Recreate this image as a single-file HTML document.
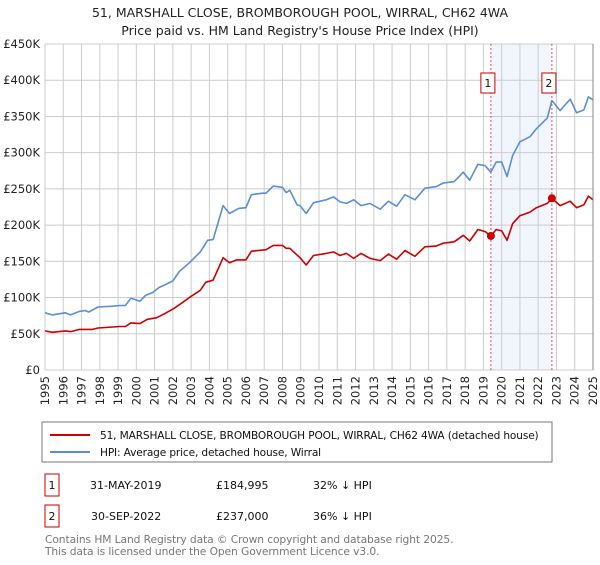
<!DOCTYPE html>
<html><head><meta charset="utf-8"><style>
body{margin:0;background:#fff;font-family:"Liberation Sans","DejaVu Sans",sans-serif;}
svg text{font-family:"DejaVu Sans","Liberation Sans",sans-serif;}
</style></head><body>
<svg id="chart" width="600" height="560" viewBox="0 0 600 560" xmlns="http://www.w3.org/2000/svg">
<text x="300" y="17" text-anchor="middle" font-size="12.5" fill="#222">51, MARSHALL CLOSE, BROMBOROUGH POOL, WIRRAL, CH62 4WA</text>
<text x="300" y="35" text-anchor="middle" font-size="12.5" fill="#222">Price paid vs. HM Land Registry's House Price Index (HPI)</text>
<g id="grid"></g><g id="series"></g><g id="axes"></g>
<rect x="42" y="422" width="510" height="40" fill="#fff" stroke="#777"/>
<line x1="50" y1="435" x2="90" y2="435" stroke="#cc0000" stroke-width="2"/>
<text x="100" y="439" font-size="10.6" letter-spacing="-0.15" fill="#111">51, MARSHALL CLOSE, BROMBOROUGH POOL, WIRRAL, CH62 4WA (detached house)</text>
<line x1="50" y1="452" x2="90" y2="452" stroke="#5b8fd4" stroke-width="2"/>
<text x="100" y="456" font-size="10.6" letter-spacing="-0.15" fill="#111">HPI: Average price, detached house, Wirral</text>
<rect x="45" y="474" width="14" height="22" fill="#fff" stroke="#cc0000"/>
<text x="52" y="489" text-anchor="middle" font-size="11" fill="#111">1</text>
<text x="90" y="489" font-size="11" fill="#111">31-MAY-2019</text>
<text x="216" y="489" font-size="11" fill="#111">£184,995</text>
<text x="313" y="489" font-size="11" fill="#111">32% ↓ HPI</text>
<rect x="45" y="505" width="14" height="22" fill="#fff" stroke="#cc0000"/>
<text x="52" y="520" text-anchor="middle" font-size="11" fill="#111">2</text>
<text x="91" y="520" font-size="11" fill="#111">30-SEP-2022</text>
<text x="216" y="520" font-size="11" fill="#111">£237,000</text>
<text x="313" y="520" font-size="11" fill="#111">36% ↓ HPI</text>
<text x="45" y="543" font-size="10.7" letter-spacing="-0.1" fill="#777">Contains HM Land Registry data © Crown copyright and database right 2025.</text>
<text x="45" y="555" font-size="10.7" letter-spacing="-0.1" fill="#777">This data is licensed under the Open Government Licence v3.0.</text>
</svg>
<script>
const hpiYears=[1995,1995.4,1996.1,1996.4,1996.9,1997.2,1997.4,1997.9,1998.7,1999.1,1999.4,1999.7,2000.2,2000.5,2000.9,2001.25,2001.6,2002,2002.35,2002.9,2003.5,2003.9,2004.2,2004.75,2005.1,2005.6,2006,2006.3,2006.9,2007.1,2007.5,2008,2008.2,2008.4,2008.8,2008.96,2009.3,2009.7,2010.4,2010.8,2011.15,2011.5,2011.9,2012.3,2012.8,2013.35,2013.8,2014.25,2014.7,2015.25,2015.8,2016.4,2016.8,2017.4,2017.9,2018.25,2018.7,2019.1,2019.4,2019.7,2020,2020.3,2020.6,2021,2021.55,2021.9,2022.5,2022.75,2023.2,2023.75,2024.1,2024.5,2024.75,2025];
const hpiValues=[79,76,79,76,81,82,80,87,88,89,89,99,95,103,107,114,118,123,136,148,163,179,180,227,216,223,224,242,244,244,254,252,245,248,228,227,216,231,235,239,232,230,235,227,230,222,233,226,242,235,251,253,258,260,273,262,284,282,273,287,287,267,296,315,322,333,348,372,358,374,355,359,377,373];
const priceYears=[1995,1995.4,1996.1,1996.4,1996.9,1997.6,1997.9,1999.1,1999.4,1999.7,2000.2,2000.6,2001.1,2001.5,2002,2002.35,2002.9,2003.5,2003.8,2004.2,2004.75,2005.1,2005.5,2006,2006.3,2007.1,2007.5,2008,2008.2,2008.4,2008.96,2009.3,2009.7,2010.4,2010.8,2011.15,2011.5,2011.9,2012.3,2012.8,2013.35,2013.8,2014.25,2014.7,2015.25,2015.8,2016.4,2016.8,2017.4,2017.9,2018.25,2018.7,2019.1,2019.41,2019.7,2020,2020.3,2020.6,2021,2021.55,2021.9,2022.5,2022.75,2023.2,2023.75,2024.1,2024.5,2024.75,2025];
const priceValues=[54,52,54,53,56,56,58,60,60,65,64,70,72,77,84,90,100,110,121,124,155,148,152,152,164,166,172,172,168,168,155,145,158,161,163,158,161,154,161,154,151,160,153,165,157,170,171,175,177,186,178,194,191,185,194,192,179,202,213,218,224,230,237,227,233,224,228,240,235];
const saleYears=[2019.41,2022.75];
const saleValues=[184995,237000];
const saleLabels=["1","2"];
const yTicks=[0,50,100,150,200,250,300,350,400,450];
const yTickLabels=["£0","£50K","£100K","£150K","£200K","£250K","£300K","£350K","£400K","£450K"];
const xTicks=[1995,1996,1997,1998,1999,2000,2001,2002,2003,2004,2005,2006,2007,2008,2009,2010,2011,2012,2013,2014,2015,2016,2017,2018,2019,2020,2021,2022,2023,2024,2025];

const X0=45,X1=593,Y0=370,Y1=44;
const xs=y=>X0+(y-1995)/30*(X1-X0);
const ys=v=>Y0-v/450*(Y0-Y1);
const NS="http://www.w3.org/2000/svg";
function mk(parent,tag,attrs){const e=document.createElementNS(NS,tag);for(const k in attrs)e.setAttribute(k,attrs[k]);document.getElementById(parent).appendChild(e);return e;}

const sh=mk('grid','rect',{x:xs(saleYears[0]),y:Y1,width:xs(saleYears[1])-xs(saleYears[0]),height:Y0-Y1,fill:'#eef3fc',opacity:0.8});


xTicks.forEach(t=>{
  const l=mk('grid','line',{x1:xs(t),x2:xs(t),y1:Y1,y2:Y0,stroke:'#cccccc','stroke-width':1});
  
  
  const tx=mk('axes','text',{x:0,y:0,transform:`translate(${xs(t)+4},${Y0+6}) rotate(-90)`,'text-anchor':'end','font-size':11.5,fill:'#222'});
  tx.textContent=t;
  
  
});
yTicks.forEach((t,i)=>{
  const l=mk('grid','line',{x1:X0,x2:X1,y1:ys(t),y2:ys(t),stroke:'#cccccc','stroke-width':1});
  
  
  const tx=mk('axes','text',{x:40,y:ys(t)+4,'text-anchor':'end','font-size':11.5,fill:'#222'});
  tx.textContent=yTickLabels[i];
  
  
});
const rb=mk('axes','line',{x1:X1,x2:X1,y1:Y1,y2:Y0,stroke:'#888','stroke-width':1});



saleYears.forEach((y,i)=>{
  const l=mk('series','line',{x1:xs(y),x2:xs(y),y1:Y1,y2:Y0,stroke:'#e05555','stroke-width':1,'stroke-dasharray':'2,2'});
  
  
});
function path(xsArr,vs,color,name){
  const d=xsArr.map((y,i)=>(i?'L':'M')+xs(y).toFixed(1)+','+ys(vs[i]).toFixed(1)).join('');
  const p=mk('series','path',{d:d,fill:'none',stroke:color,'stroke-width':1.6,'stroke-linejoin':'round'});
  
  
}
path(hpiYears,hpiValues,'#5b8fd4','hpi-line');
path(priceYears,priceValues,'#cc0000','price-line');
saleYears.forEach((y,i)=>{
  const c=mk('series','circle',{cx:xs(y),cy:ys(saleValues[i]/1000),r:4,fill:'#cc0000'});
  
  
  const b=mk('series','rect',{x:xs(y)-10,y:73,width:14,height:20,fill:'#fff',stroke:'#cc0000'});
  
  
  const t=mk('series','text',{x:xs(y)-3,y:87,'text-anchor':'middle','font-size':11,fill:'#111'});
  t.textContent=saleLabels[i];
  
  
});
</script>
</body></html>
